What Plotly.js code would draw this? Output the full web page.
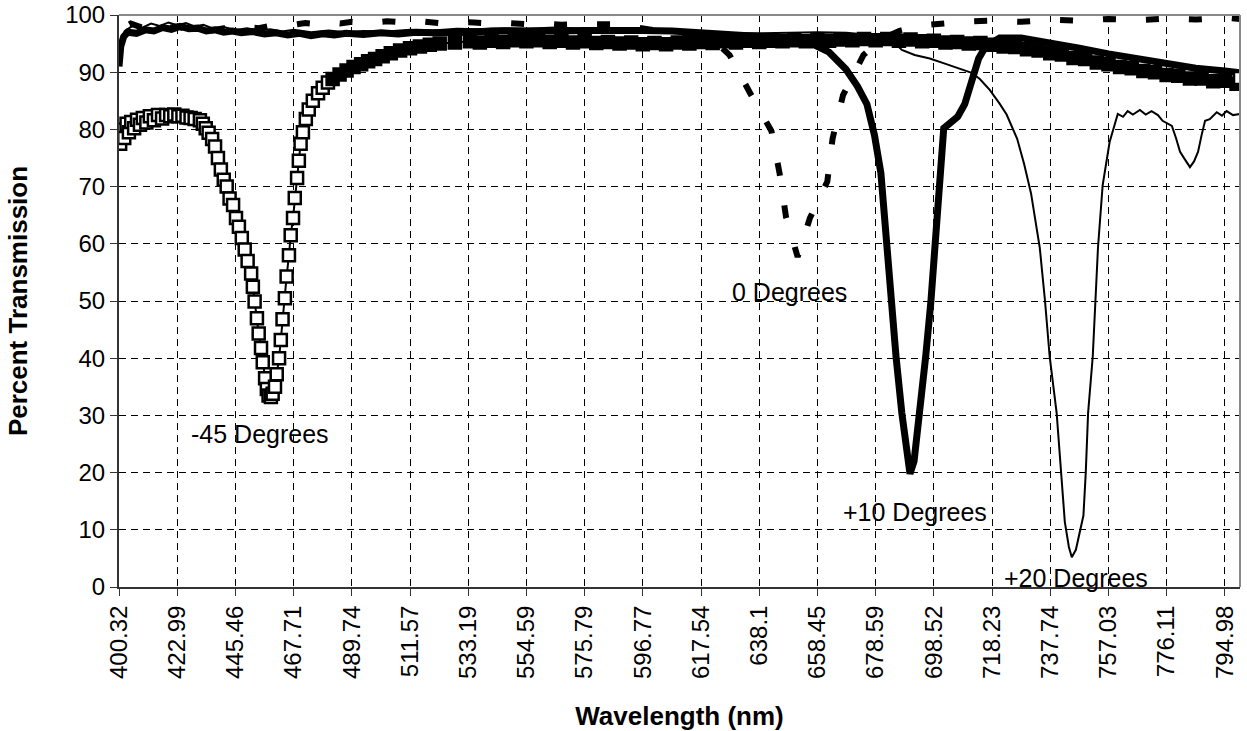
<!DOCTYPE html>
<html>
<head>
<meta charset="utf-8">
<script src="https://cdn.plot.ly/plotly-3.0.1.min.js"></script>
<style>html,body{margin:0;padding:0;background:#fff;}#chart{width:1247px;height:731px;}</style>
</head>
<body>
<div id="chart"></div>
<script>
// Category tick labels (wavelength, nm) – one every tick-index unit
const tickLabels = ['400.32','422.99','445.46','467.71','489.74','511.57','533.19','554.59','575.79','596.77',
  '617.54','638.1','658.45','678.59','698.52','718.23','737.74','757.03','776.11','794.98'];

// Positions are in tick-index units along the category axis
const neg45X = [0,0.02,0.05,0.09,0.13,0.17,0.21,0.26,0.31,0.36,0.41,0.47,0.53,0.6,0.67,0.74,0.81,0.88,0.95,1.02,1.09,1.16,1.23,1.3,
  1.39,1.44,1.49,1.54,1.60,1.65,1.70,1.75,1.80,1.85,1.90,1.96,2.01,2.06,2.11,2.16,2.21,2.27,2.30,2.33,2.37,2.40,2.44,2.47,2.51,2.54,2.57,
  2.61,2.64,2.68,2.71,2.75,2.78,2.81,2.85,2.88,2.92,2.95,2.99,3.02,3.06,3.09,3.12,3.16,3.21,3.26,3.33,3.42,3.50,3.59,3.67,3.79,3.91,
  4.03,4.16,4.28,4.40,4.53,4.67,4.83,5.00,5.17,5.34,5.51,5.77,6.03,
  6.2,6.4,6.6,6.8,7.0,7.2,7.4,7.6,7.8,8.0,8.2,8.4,8.6,8.8,9.0,9.2,9.4,9.6,9.8,10.0,10.2,10.4,10.6,10.8,11.0,11.2,11.4,11.6,11.8,
  12.0,12.2,12.4,12.6,12.8,13.0,13.2,13.4,13.6,13.8,14.0,14.2,14.4,14.6,14.8,15.0,15.2,15.4,15.6,15.8,16.0,16.2,16.4,16.6,16.8,
  17.0,17.2,17.4,17.6,17.8,18.0,18.2,18.4,18.6,18.8,19.0,19.2,19.26];
const neg45Y = [79.5,77.5,80,78.5,81,79.5,81.3,80.2,81.7,80.8,82,81.2,82.3,81.6,82.5,81.9,82.5,82.3,82.6,82.3,82.4,82.1,82.0,81.8,
  81.6,81.0,80.2,79.4,78.3,77.0,75.0,73.0,71.2,70.0,67.9,66.8,64.5,63.0,61.0,59.0,57.0,54.8,52.5,49.9,47.0,44.3,41.8,39.3,36.5,34.6,33.5,
  33.2,33.8,35.0,37.2,40.0,43.2,46.8,50.5,54.3,58.0,61.5,64.5,68.0,71.5,74.5,77.5,79.5,81.8,83.5,85.0,86.3,87.3,88.2,88.8,89.6,90.3,
  90.9,91.4,91.9,92.3,92.8,93.3,93.8,94.2,94.5,94.8,95.0,95.2,95.4,
  95.2,95.5,95.3,95.6,95.4,95.6,95.3,95.5,95.2,95.4,95.1,95.3,95.0,95.2,94.9,95.1,94.9,95.2,95.0,95.3,95.1,95.4,95.2,95.5,95.3,95.5,95.4,95.6,95.4,
  95.6,95.5,95.7,95.6,95.8,95.6,95.8,95.5,95.7,95.4,95.5,95.2,95.3,95.0,95.1,94.8,94.5,94.4,94.0,93.8,93.3,93.1,92.5,92.3,91.7,
  91.4,90.9,90.7,90.2,90.0,89.5,89.4,88.9,88.9,88.4,88.5,88.0,89.0];

const deg0X = [0,0.03,0.08,0.2,0.4,0.6,0.8,1.0,1.2,1.4,1.6,1.8,2.0,2.2,2.4,2.6,2.8,3.0,3.2,3.4,3.6,3.8,4.0,4.3,4.6,4.9,5.2,5.5,5.8,6.1,
  6.4,6.7,7.0,7.3,7.6,7.9,8.2,8.5,8.8,9.1,9.4,9.7,10.0,10.3,10.49,10.84,11.21,11.35,11.46,11.66,11.87,12.17,12.26,12.44,12.79,
  13.1,13.4,13.8,14.2,14.6,15.0,15.5,16.0,16.5,17.0,17.5,18.0,18.5,19.0,19.26];
const deg0Y = [91.5,95.5,97.8,98.5,97.8,98.3,97.6,98.0,97.4,97.9,97.3,97.7,97.5,97.9,97.7,98.1,98.0,98.4,98.6,98.4,98.7,98.5,98.8,98.6,98.9,98.7,
  98.9,98.6,98.8,98.7,98.5,98.6,98.4,98.5,98.3,98.4,98.5,98.4,98.0,97.6,97.0,96.4,95.8,94.8,93.0,86.4,79.7,72.3,64.7,57.7,64.5,70.9,78.4,86.0,93.0,
  95.8,97.2,98.2,98.6,98.9,99.0,98.8,99.2,99.0,99.3,99.1,99.4,99.2,99.5,99.3];

const deg10X = [0,0.03,0.08,0.15,0.3,0.45,0.6,0.75,0.9,1.05,1.2,1.35,1.5,1.65,1.8,1.95,2.1,2.3,2.5,2.7,2.9,3.1,3.3,3.5,3.7,3.9,4.2,4.5,4.8,
  5.1,5.4,5.7,6.0,6.4,6.8,7.2,7.6,8.0,8.5,9.0,9.5,10.0,10.5,11.0,11.5,11.75,11.9,12.2,12.49,12.69,12.85,12.98,13.09,13.19,13.28,13.35,
  13.45,13.52,13.59,13.66,13.76,13.86,13.95,14.02,14.07,14.12,14.17,14.29,14.41,14.53,14.65,14.77,14.89,15.13,15.5,16.0,16.5,17.0,17.5,
  18.0,18.5,19.0,19.26];
const deg10Y = [91,94.5,96.2,97.0,96.8,97.4,97.2,97.8,97.5,98.0,97.6,97.7,97.2,97.4,97.0,97.2,96.9,97.1,96.7,96.9,96.5,96.8,96.4,96.7,96.5,96.8,
  96.6,96.9,96.7,97.0,96.9,97.1,97.0,97.2,97.1,97.3,97.2,97.3,97.4,97.3,97.2,96.9,96.5,96.4,96.2,95.8,95.0,93.5,90.5,87.5,84.4,79.0,72.4,59.3,
  49.0,40.3,30.4,24.0,19.8,22.0,30.4,40.3,50.0,59.3,67.0,75.0,80.2,81.2,82.2,84.4,88.5,92.4,94.5,96.0,96.0,95.2,94.2,93.2,92.3,91.4,90.7,90.2,89.9];

const deg20X = [0,0.04,0.1,0.25,0.4,0.55,0.7,0.85,1.0,1.15,1.3,1.45,1.6,1.8,2.0,2.2,2.4,2.6,2.8,3.0,3.3,3.6,3.9,4.2,4.6,5.0,5.4,5.8,6.2,6.6,
  7.0,7.5,8.0,8.5,9.0,9.5,10.0,10.5,11.0,11.5,12.0,12.5,13.0,13.3,13.45,13.67,13.93,14.19,14.45,14.65,14.79,14.96,15.13,15.25,15.43,15.55,
  15.67,15.75,15.82,15.91,15.99,16.11,16.18,16.25,16.32,16.37,16.44,16.52,16.57,16.61,16.65,16.73,16.82,16.90,17.02,17.16,17.25,17.33,
  17.42,17.54,17.64,17.74,17.85,17.93,18.02,18.09,18.16,18.23,18.31,18.40,18.47,18.54,18.60,18.66,18.74,18.81,18.86,18.95,19.03,19.14,19.26];
const deg20Y = [91.5,95.5,97.2,98.2,97.8,98.5,98.1,98.7,98.2,98.6,98.0,98.3,97.7,97.9,97.4,97.7,97.3,97.5,97.1,97.4,97.0,97.3,97.0,97.2,97.1,
  97.4,97.3,97.6,97.5,97.7,97.6,97.8,97.6,97.7,97.5,97.3,97.0,96.8,96.8,96.9,97.0,96.9,96.4,95.4,93.9,93.0,92.4,91.5,90.6,89.9,88.8,86.9,84.5,
  82.6,78.4,74.0,68.8,64.0,59.3,50.0,40.3,30.4,21.0,11.4,7.0,5.2,6.5,10.0,12.5,20.0,30.4,40.3,59.3,70.2,77.8,82.7,82.2,83.2,82.6,83.4,82.6,83.2,
  82.5,81.5,81.0,80.6,78.5,76.1,74.8,73.4,74.4,76.1,79.0,81.5,81.8,82.6,83.0,82.4,83.2,82.5,82.7];

// Annotation labels and their anchor values
const labelText = ['-45 Degrees','0 Degrees','+10 Degrees','+20 Degrees'];
const labelX = [2.42, 11.52, 13.67, 16.45];
const labelY = [26.8, 51.6, 13.1, 1.6];

const FONT = 'Liberation Sans, Arial, sans-serif';

const neg45Fill = neg45X.map((x, i) => (i === neg45X.length - 1 || x < 3.6) ? '#ffffff' : '#000000');

const traces = [
  {x: deg0X, y: deg0Y, type: 'scatter', mode: 'lines', name: '0 Degrees',
   line: {color: '#000', width: 6, dash: '13px,30px'}},
  {x: deg20X, y: deg20Y, type: 'scatter', mode: 'lines', name: '+20 Degrees',
   line: {color: '#000', width: 2}},
  {x: deg10X, y: deg10Y, type: 'scatter', mode: 'lines', name: '+10 Degrees',
   line: {color: '#000', width: 7}},
  {x: neg45X, y: neg45Y, type: 'scatter', mode: 'lines+markers', name: '-45 Degrees',
   line: {color: '#000', width: 2},
   marker: {symbol: 'square', size: 12, color: neg45Fill, line: {color: '#000', width: 2.5}}}
];

const tickVals = tickLabels.map((_, i) => i);

const layout = {
  width: 1247, height: 731,
  margin: {l: 119, r: 7, t: 15, b: 144},
  paper_bgcolor: '#fff', plot_bgcolor: '#fff',
  showlegend: false,
  font: {family: FONT, color: '#000', size: 22},
  xaxis: {
    range: [0, 19.26], tickmode: 'array', tickvals: tickVals, ticktext: tickLabels,
    tickangle: -90, ticks: 'outside', ticklen: 7, tickcolor: '#333', tickwidth: 1,
    showline: true, linecolor: '#333', linewidth: 2,
    showgrid: true, gridcolor: '#000', gridwidth: 1, griddash: '7px,5px',
    zeroline: false, tickfont: {family: FONT, size: 24, color: '#000'},
    title: {text: '<b>Wavelength (nm)</b>', font: {family: FONT, size: 26, color: '#000'}, standoff: 29}
  },
  yaxis: {
    range: [0, 100], tickmode: 'linear', tick0: 0, dtick: 10,
    ticks: 'outside', ticklen: 7, tickcolor: '#333', tickwidth: 1,
    showline: true, linecolor: '#333', linewidth: 2,
    showgrid: true, gridcolor: '#000', gridwidth: 1, griddash: '7px,5px',
    zeroline: false, tickfont: {family: FONT, size: 24, color: '#000'},
    title: {text: '<b>Percent Transmission</b>', font: {family: FONT, size: 26, color: '#000'}, standoff: 30}
  },
  shapes: [
    {type: 'line', xref: 'paper', yref: 'paper', x0: 0, x1: 1, y0: 1, y1: 1, line: {color: '#888', width: 2}},
    {type: 'line', xref: 'paper', yref: 'paper', x0: 1, x1: 1, y0: 0, y1: 1, line: {color: '#888', width: 2}}
  ],
  annotations: labelText.map((t, i) => ({
    text: t, x: labelX[i], y: labelY[i], xref: 'x', yref: 'y', showarrow: false,
    font: {family: FONT, size: 25, color: '#000'}
  }))
};

Plotly.newPlot('chart', traces, layout, {staticPlot: true, displayModeBar: false});
</script>
</body>
</html>
